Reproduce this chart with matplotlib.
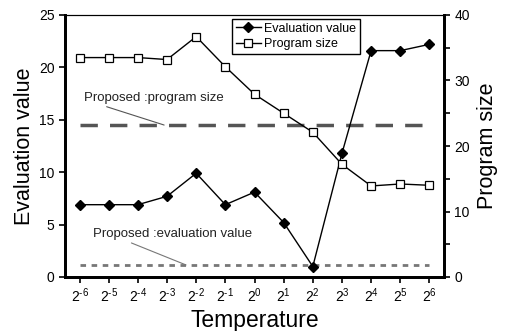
import matplotlib.pyplot as plt
import numpy as np

plt.rcParams['font.family'] = ['Liberation Sans', 'DejaVu Sans']
plt.rcParams['mathtext.fontset'] = 'custom'
plt.rcParams['mathtext.rm'] = 'Liberation Sans'
plt.rcParams['mathtext.it'] = 'Liberation Sans'
plt.rcParams['axes.unicode_minus'] = False

exponents = [-6, -5, -4, -3, -2, -1, 0, 1, 2, 3, 4, 5, 6]
tick_labels = ['$2^{\\text{%d}}$' % e for e in exponents]
eval_value = [6.9, 6.9, 6.9, 7.7, 9.9, 6.9, 8.1, 5.2, 1.0, 11.8, 21.6, 21.6, 22.2]
program_size = [33.5, 33.5, 33.5, 33.2, 36.7, 32.1, 27.9, 25.0, 22.1, 17.2, 13.9, 14.2, 14.0]
proposed_program = 14.5   # on left axis scale
proposed_eval = 1.15

x = np.arange(len(exponents))

fig = plt.figure(figsize=(5.05, 3.31), dpi=100)
ax = fig.add_axes([65/505, 1-277/331, (444-65)/505, (277-15)/331])
ax2 = ax.twinx()

l1, = ax.plot(x, eval_value, color='black', lw=1, marker='D', ms=5,
              mfc='black', mec='black', label='Evaluation value', zorder=4)
l2, = ax2.plot(x, program_size, color='black', lw=1, marker='s', ms=6,
               mfc='white', mec='black', mew=0.9, label='Program size', zorder=4)

ax.plot([0, 12], [proposed_program]*2, color='#555555', lw=2.5,
        dashes=(5, 3.5))
ax.plot([0, 12], [proposed_eval]*2, color='#777777', lw=2, dashes=(2, 2))

ax.annotate('Proposed :program size', xy=(2.9, proposed_program),
            xytext=(0.15, 16.8), fontsize=9.5, color='#222222',
            arrowprops=dict(arrowstyle='-', color='#555555', lw=0.8,
                            shrinkA=0, shrinkB=0, relpos=(0.1, 0.0)))
ax.annotate('Proposed :evaluation value', xy=(3.65, proposed_eval),
            xytext=(0.45, 3.8), fontsize=9.5, color='#222222',
            arrowprops=dict(arrowstyle='-', color='#777777', lw=0.8,
                            shrinkA=0, shrinkB=0, relpos=(0.2, 0.0)))

ax.set_xlim(-0.5, 12.5)
ax.set_ylim(0, 25)
ax2.set_ylim(0, 40)
ax.set_xticks(x)
ax.set_xticklabels(tick_labels, fontsize=10)
ax.set_yticks([0, 5, 10, 15, 20, 25])
ax2.set_yticks([0, 10, 20, 30, 40])
ax2.set_yticks([5, 15, 25, 35], minor=True)
ax.tick_params(axis='both', labelsize=10, direction='out', length=4, width=1.2)
ax.tick_params(axis='x', labelsize=10, pad=3)
ax2.tick_params(axis='y', which='both', labelsize=10, direction='out',
                length=4, width=1.2)

for a in (ax, ax2):
    for s in ('left', 'right', 'bottom'):
        a.spines[s].set_linewidth(2)
    a.spines['top'].set_linewidth(0.8)

ax.set_ylabel('Evaluation value', fontsize=15.5, labelpad=3)
ax2.set_ylabel('Program size', fontsize=15.5, labelpad=5)
ax.set_xlabel('Temperature', fontsize=16.5, labelpad=3)

leg = ax.legend(handles=[l1, l2], loc='upper left',
                bbox_to_anchor=((232-65)/379, 1-4/262), fontsize=9,
                frameon=True, fancybox=False, edgecolor='black',
                framealpha=1, borderpad=0.3, labelspacing=0.3,
                handlelength=2.0, handletextpad=0.3, borderaxespad=0)
leg.get_frame().set_linewidth(1)
leg.set_zorder(10)

fig.savefig('out.png', dpi=100)
